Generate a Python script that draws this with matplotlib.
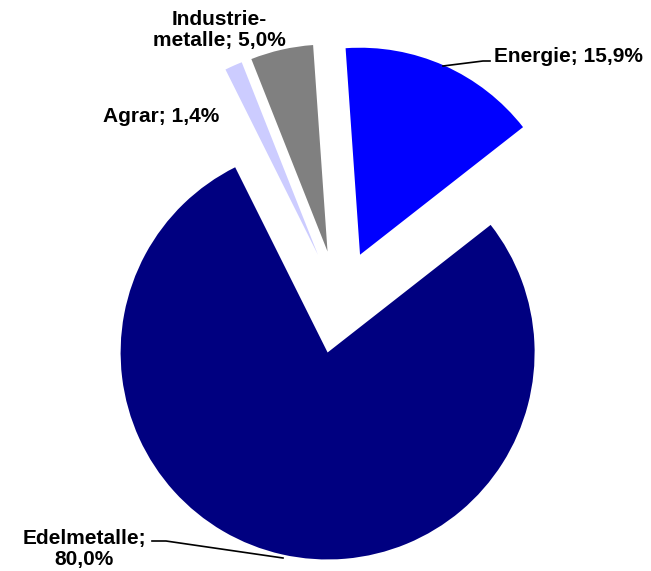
import matplotlib.pyplot as plt
from matplotlib.lines import Line2D

labels = ['Energie', 'Edelmetalle', 'Agrar', 'Industrie-\nmetalle']
shares = [15.9, 80.0, 1.4, 5.0]
colors = ['#0000FF', '#000080', '#CCCCFF', '#808080']

W, H = 651, 571
R = 207.0          # pie radius in pixels
CX, CY = 339, 302  # pie centre in pixels

fig = plt.figure(figsize=(W / 100, H / 100), dpi=100)
ax = fig.add_axes([0, 0, 1, 1])
ax.pie(shares, colors=colors, startangle=94, counterclock=False,
       explode=[0.25] * len(shares), radius=1,
       wedgeprops=dict(linewidth=0))
ax.set_aspect('auto')
ax.set_xlim(-CX / R, (W - CX) / R)
ax.set_ylim(-(H - CY) / R, CY / R)
ax.axis('off')


def fx(x):
    return x / W


def fy(y):
    return 1 - y / H


font = dict(family=['Liberation Sans', 'DejaVu Sans'], fontsize=15,
            fontweight='bold', color='black')

def lbl(i):
    return '%s; %s%%' % (labels[i], ('%.1f' % shares[i]).replace('.', ','))

fig.text(fx(494), fy(56), lbl(0), ha='left', va='center', **font)
fig.text(fx(84), fy(549), 'Edelmetalle;\n80,0%', ha='center', va='center',
         multialignment='center', linespacing=1.1, **font)
fig.text(fx(103), fy(116), lbl(2), ha='left', va='center', **font)
fig.text(fx(219), fy(30), lbl(3), ha='center', va='center',
         multialignment='center', linespacing=1.1, **font)

# leader lines
for xs, ys in [([443, 483, 490], [66, 61, 61]),
               ([152, 166, 283], [541, 541, 558])]:
    fig.add_artist(Line2D([fx(v) for v in xs], [fy(v) for v in ys],
                          color='black', lw=1.2))

fig.savefig('out.png', dpi=100)
